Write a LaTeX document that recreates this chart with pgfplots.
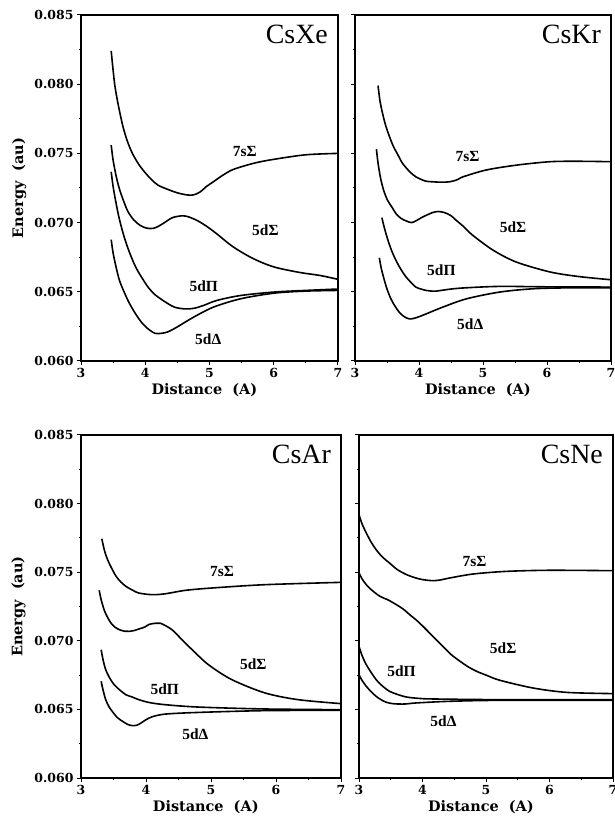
\documentclass[border=0pt]{standalone}
\usepackage{pgfplots}
\pgfplotsset{compat=1.18}
\usepackage{fontspec}
\setmainfont{Liberation Serif}
\newfontfamily\tickfont{DejaVu Serif}
\begin{document}
\begin{tikzpicture}
\useasboundingbox (0bp,0bp) rectangle (615bp,821bp);
\tikzset{
  lab/.style={font=\bfseries\fontsize{15.5}{16}\selectfont, anchor=center},
  ttl/.style={font=\fontsize{28}{30}\selectfont, anchor=north east, inner sep=0pt, xshift=-10bp, yshift=-10bp},
}
\pgfplotsset{
  panel/.style={
    scale only axis,
    anchor=south west,
    xmin=3, xmax=7, ymin=0.060, ymax=0.085,
    xtick={3,4,5,6,7},
    ytick={0.060,0.065,0.070,0.075,0.080,0.085},
    minor x tick num=1, minor y tick num=1,
    tick align=outside,
    major tick length=4bp, minor tick length=2bp,
    xtick pos=left, ytick pos=left,
    axis line style={line width=1.3bp},
    every tick/.style={line width=1bp, black},
    /pgf/number format/assume math mode=true,
    ticklabel style={font=\tickfont\bfseries\fontsize{12.5}{13}\selectfont},
    yticklabel style={/pgf/number format/fixed, /pgf/number format/precision=3, /pgf/number format/fixed zerofill},
    scaled y ticks=false,
    xlabel={Distance\ \ (A)},
    xlabel style={font=\tickfont\bfseries\fontsize{14.5}{15}\selectfont, at={(axis description cs:0.48,-0.085)}, anchor=center},
    every axis plot post/.append style={black, line width=1.6bp, smooth, tension=0.5, mark=none},
    clip=false,
  },
  yl/.style={ylabel={Energy\ \ (au)},
    ylabel style={font=\tickfont\bfseries\fontsize{14.5}{15}\selectfont, at={(axis description cs:-0.24,0.5)}, anchor=center, rotate=0}},
}
% ---------- CsXe ----------
\begin{axis}[panel, yl, at={(81bp,460bp)}, width=257bp, height=346bp]
\addplot coordinates {(3.47,0.0824)(3.50,0.0810)(3.53,0.0798)(3.58,0.0785)(3.65,0.0770)(3.72,0.0759)(3.8,0.0750)(3.9,0.0742)(4.0,0.0736)(4.1,0.0731)(4.2,0.0727)(4.35,0.0724)(4.5,0.07215)(4.65,0.0720)(4.75,0.0720)(4.85,0.0722)(4.95,0.0726)(5.06,0.07295)(5.2,0.0734)(5.37,0.07384)(5.7,0.0743)(6.0,0.07457)(6.5,0.0749)(7.0,0.0750)};
\addplot coordinates {(3.47,0.0756)(3.50,0.0745)(3.55,0.0733)(3.6,0.0724)(3.66,0.0716)(3.73,0.0708)(3.82,0.0702)(3.92,0.0698)(4.02,0.06960)(4.12,0.06958)(4.2,0.06972)(4.3,0.0700)(4.42,0.07035)(4.55,0.07048)(4.65,0.07045)(4.8,0.07017)(4.95,0.06975)(5.11,0.0692)(5.37,0.06824)(5.68,0.0674)(6.0,0.0668)(6.4,0.0664)(6.72,0.06618)(7.0,0.0659)};
\addplot coordinates {(3.47,0.07367)(3.50,0.0726)(3.55,0.0713)(3.6,0.0702)(3.67,0.0690)(3.75,0.0679)(3.85,0.0668)(3.95,0.0660)(4.05,0.0653)(4.15,0.0648)(4.3,0.0643)(4.45,0.0639)(4.6,0.06377)(4.75,0.0638)(4.9,0.0640)(5.11,0.06437)(5.48,0.06473)(6.0,0.06498)(6.5,0.0651)(7.0,0.0652)};
\addplot coordinates {(3.47,0.06877)(3.50,0.0678)(3.55,0.0667)(3.6,0.0658)(3.67,0.0650)(3.75,0.0642)(3.85,0.0634)(3.95,0.06275)(4.05,0.0623)(4.15,0.06200)(4.25,0.0620)(4.35,0.0621)(4.49,0.06244)(4.75,0.06316)(5.06,0.06389)(5.48,0.06449)(6.0,0.0649)(6.5,0.06505)(7.0,0.0651)};
\node[lab] at (axis cs:5.55,0.07512) {7sΣ};
\node[lab] at (axis cs:5.87,0.06944) {5dΣ};
\node[lab] at (axis cs:4.91,0.06539) {5dΠ};
\node[lab] at (axis cs:4.98,0.0616) {5dΔ};
\node[ttl] at (rel axis cs:1,1) {CsXe};
\end{axis}
% ---------- CsKr ----------
\begin{axis}[panel, at={(355bp,460bp)}, width=256bp, height=346bp, yticklabels={}]
\addplot coordinates {(3.36,0.0799)(3.39,0.0788)(3.43,0.0779)(3.48,0.0770)(3.54,0.0762)(3.6,0.0755)(3.67,0.0749)(3.74,0.0743)(3.85,0.0737)(3.95,0.07331)(4.1,0.0730)(4.21,0.07295)(4.35,0.07292)(4.48,0.07295)(4.6,0.0731)(4.69,0.07331)(5.05,0.0738)(5.52,0.07415)(6.05,0.0744)(6.5,0.07443)(7.0,0.0744)};
\addplot coordinates {(3.335,0.0753)(3.36,0.0743)(3.40,0.0732)(3.45,0.0723)(3.51,0.0716)(3.58,0.0711)(3.64,0.07065)(3.72,0.0703)(3.8,0.07012)(3.88,0.0700)(3.95,0.07012)(4.06,0.07041)(4.21,0.07072)(4.3,0.0708)(4.4,0.07072)(4.5,0.0705)(4.58,0.07017)(4.7,0.0697)(4.84,0.06908)(5.16,0.0680)(5.52,0.06715)(6.05,0.06643)(6.5,0.0661)(7.0,0.06587)};
\addplot coordinates {(3.42,0.07036)(3.46,0.0696)(3.51,0.0688)(3.57,0.0680)(3.64,0.06727)(3.72,0.0666)(3.8,0.06606)(3.88,0.06565)(3.95,0.06534)(4.03,0.0652)(4.11,0.0651)(4.2,0.06505)(4.27,0.06505)(4.5,0.0652)(4.74,0.06529)(5.26,0.06539)(6.0,0.06536)(7.0,0.06534)};
\addplot coordinates {(3.38,0.06746)(3.41,0.0667)(3.455,0.0659)(3.5,0.0652)(3.56,0.0645)(3.62,0.0640)(3.69,0.06353)(3.77,0.0632)(3.85,0.06304)(3.92,0.06308)(4.0,0.0632)(4.11,0.0634)(4.37,0.06389)(4.74,0.06449)(5.26,0.06498)(5.79,0.06522)(6.4,0.06529)(7.0,0.06529)};
\node[lab] at (axis cs:4.76,0.07476) {7sΣ};
\node[lab] at (axis cs:5.47,0.06969) {5dΣ};
\node[lab] at (axis cs:4.35,0.06659) {5dΠ};
\node[lab] at (axis cs:4.8,0.06268) {5dΔ};
\node[ttl] at (rel axis cs:1,1) {CsKr};
\end{axis}
% ---------- CsAr ----------
\begin{axis}[panel, yl, at={(81bp,43bp)}, width=260bp, height=343bp]
\addplot coordinates {(3.32,0.07744)(3.36,0.0766)(3.41,0.0759)(3.47,0.0753)(3.54,0.0747)(3.61,0.0743)(3.69,0.07397)(3.79,0.0737)(3.89,0.07348)(4.1,0.07336)(4.3,0.07343)(4.61,0.07368)(5.02,0.07385)(5.83,0.07409)(7.0,0.07426)};
\addplot coordinates {(3.28,0.07368)(3.31,0.0730)(3.36,0.0722)(3.41,0.0717)(3.46,0.0713)(3.52,0.0710)(3.59,0.07081)(3.67,0.0707)(3.74,0.07069)(3.82,0.07075)(3.89,0.07086)(3.98,0.0710)(4.05,0.0712)(4.15,0.07128)(4.22,0.07128)(4.3,0.0711)(4.4,0.07081)(4.55,0.0701)(4.71,0.06935)(4.96,0.06826)(5.32,0.06717)(5.83,0.0662)(6.34,0.06571)(7.0,0.06542)};
\addplot coordinates {(3.31,0.06935)(3.34,0.0686)(3.38,0.0679)(3.44,0.0673)(3.51,0.0668)(3.6,0.0664)(3.69,0.06607)(3.79,0.0659)(3.89,0.06571)(4.05,0.0655)(4.3,0.06534)(4.81,0.06517)(5.83,0.06503)(7.0,0.06498)};
\addplot coordinates {(3.31,0.06705)(3.34,0.0664)(3.38,0.06571)(3.43,0.0652)(3.48,0.06486)(3.56,0.0644)(3.64,0.06413)(3.72,0.0639)(3.79,0.06382)(3.86,0.06385)(3.92,0.0640)(4.0,0.06425)(4.1,0.06447)(4.3,0.06466)(4.81,0.06478)(5.83,0.06491)(7.0,0.06493)};
\node[lab] at (axis cs:5.17,0.07506) {7sΣ};
\node[lab] at (axis cs:5.65,0.06826) {5dΣ};
\node[lab] at (axis cs:4.29,0.06644) {5dΠ};
\node[lab] at (axis cs:4.76,0.06316) {5dΔ};
\node[ttl] at (rel axis cs:1,1) {CsAr};
\end{axis}
% ---------- CsNe ----------
\begin{axis}[panel, at={(359bp,43bp)}, width=254bp, height=343bp, yticklabels={}]
\addplot coordinates {(3.0,0.07919)(3.05,0.0785)(3.115,0.07786)(3.19,0.0772)(3.27,0.07664)(3.37,0.0761)(3.48,0.07567)(3.6,0.0752)(3.75,0.07482)(3.88,0.0746)(4.0,0.07446)(4.17,0.07438)(4.3,0.07445)(4.43,0.07458)(4.8,0.07487)(5.32,0.07506)(6.0,0.07514)(7.0,0.07511)};
\addplot coordinates {(3.0,0.07494)(3.05,0.0745)(3.115,0.07409)(3.2,0.0737)(3.33,0.07324)(3.45,0.0730)(3.59,0.07263)(3.7,0.0723)(3.8,0.0719)(3.93,0.0714)(4.06,0.07081)(4.19,0.0702)(4.32,0.0696)(4.45,0.0690)(4.59,0.06851)(4.72,0.0681)(4.85,0.06778)(5.0,0.0675)(5.22,0.06712)(5.74,0.06656)(6.27,0.06624)(7.0,0.06615)};
\addplot coordinates {(3.0,0.0696)(3.05,0.0689)(3.115,0.06826)(3.19,0.0677)(3.27,0.06717)(3.37,0.0667)(3.48,0.06632)(3.6,0.0661)(3.75,0.0659)(3.95,0.0658)(4.17,0.06576)(5.22,0.06571)(7.0,0.06571)};
\addplot coordinates {(3.0,0.06753)(3.05,0.0671)(3.115,0.06668)(3.19,0.0663)(3.27,0.06595)(3.35,0.0657)(3.43,0.06552)(3.53,0.06542)(3.64,0.06539)(3.75,0.0654)(3.9,0.06547)(4.43,0.06559)(5.22,0.06566)(7.0,0.06566)};
\node[lab] at (axis cs:4.82,0.07579) {7sΣ};
\node[lab] at (axis cs:5.27,0.06948) {5dΣ};
\node[lab] at (axis cs:3.67,0.06778) {5dΠ};
\node[lab] at (axis cs:4.33,0.06414) {5dΔ};
\node[ttl] at (rel axis cs:1,1) {CsNe};
\end{axis}
\end{tikzpicture}
\end{document}
